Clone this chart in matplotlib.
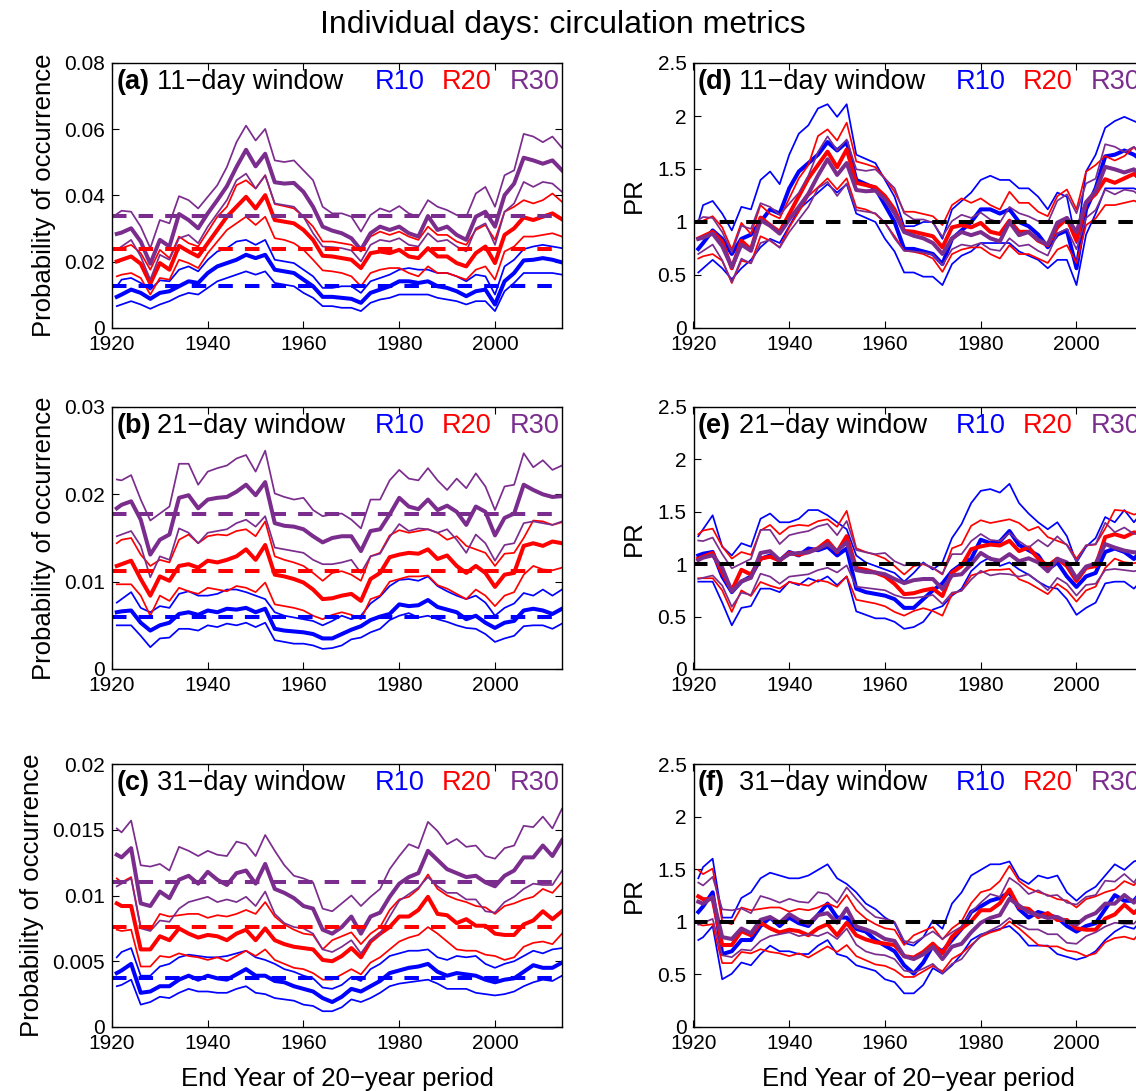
import numpy as np
import matplotlib
matplotlib.use("Agg")
import matplotlib.pyplot as plt

plt.rcParams['font.family'] = ['Liberation Sans', 'DejaVu Sans']
plt.rcParams['mathtext.default'] = 'regular'

# ---------------- data ----------------
years = np.array([1921] + list(range(1922, 2015, 2)))

# (a) 11-day window: probability of occurrence (thin low, thick central, thin high)
a_r10_lo = np.array([0.0066, 0.0071, 0.0081, 0.0071, 0.0058, 0.0071, 0.0081, 0.0096, 0.0106, 0.0101, 0.0121, 0.0141, 0.0151, 0.0161, 0.0171, 0.0161, 0.0171, 0.0136, 0.0131, 0.0126, 0.0106, 0.0091, 0.0066, 0.0066, 0.0061, 0.0061, 0.0051, 0.0076, 0.0086, 0.0091, 0.0101, 0.0101, 0.0101, 0.0101, 0.0091, 0.0086, 0.0081, 0.0071, 0.0081, 0.0081, 0.0051, 0.0111, 0.0136, 0.0166, 0.0166, 0.0166, 0.0166, 0.0161])
a_r10_mid = np.array([0.0094, 0.0101, 0.0116, 0.0106, 0.0088, 0.0106, 0.0111, 0.0126, 0.0141, 0.0136, 0.0166, 0.0186, 0.0196, 0.0206, 0.0221, 0.0211, 0.0221, 0.0176, 0.0171, 0.0166, 0.0146, 0.0126, 0.0094, 0.0094, 0.0091, 0.0088, 0.0076, 0.0106, 0.0116, 0.0126, 0.0141, 0.0141, 0.0136, 0.0141, 0.0126, 0.0121, 0.0111, 0.0096, 0.0111, 0.0116, 0.0071, 0.0141, 0.0166, 0.0204, 0.0206, 0.0211, 0.0206, 0.0198])
a_r10_hi = np.array([0.0126, 0.0146, 0.0151, 0.0136, 0.0116, 0.0144, 0.0141, 0.0176, 0.0186, 0.0171, 0.0206, 0.0231, 0.0241, 0.0261, 0.0266, 0.0251, 0.0266, 0.0206, 0.0201, 0.0196, 0.0176, 0.0156, 0.0121, 0.0121, 0.0126, 0.0126, 0.0106, 0.0141, 0.0151, 0.0161, 0.0176, 0.0181, 0.0176, 0.0176, 0.0166, 0.0166, 0.0156, 0.0141, 0.0161, 0.0156, 0.0101, 0.0186, 0.0206, 0.0238, 0.0246, 0.0251, 0.0246, 0.0241])
a_r20_lo = np.array([0.0156, 0.0161, 0.0166, 0.0151, 0.0101, 0.0151, 0.0146, 0.0206, 0.0196, 0.0181, 0.0226, 0.0261, 0.0296, 0.0316, 0.0336, 0.0311, 0.0336, 0.0271, 0.0266, 0.0256, 0.0236, 0.0206, 0.0174, 0.0171, 0.0166, 0.0156, 0.0126, 0.0166, 0.0176, 0.0181, 0.0181, 0.0166, 0.0156, 0.0186, 0.0166, 0.0166, 0.0156, 0.0146, 0.0176, 0.0186, 0.0146, 0.0231, 0.0246, 0.0276, 0.0276, 0.0281, 0.0286, 0.0276])
a_r20_mid = np.array([0.0201, 0.0206, 0.0216, 0.0194, 0.0134, 0.0196, 0.0176, 0.0248, 0.0231, 0.0216, 0.0256, 0.0296, 0.0336, 0.0366, 0.0396, 0.0361, 0.0401, 0.0326, 0.0321, 0.0316, 0.0296, 0.0266, 0.0218, 0.0216, 0.0211, 0.0206, 0.0181, 0.0226, 0.0231, 0.0226, 0.0236, 0.0216, 0.0211, 0.0241, 0.0216, 0.0216, 0.0196, 0.0186, 0.0226, 0.0246, 0.0196, 0.0281, 0.0301, 0.0334, 0.0326, 0.0336, 0.0346, 0.0328])
a_r20_hi = np.array([0.0238, 0.0241, 0.0251, 0.0226, 0.0176, 0.0236, 0.0211, 0.0276, 0.0256, 0.0246, 0.0291, 0.0336, 0.0366, 0.0431, 0.0446, 0.0421, 0.0461, 0.0374, 0.0368, 0.0361, 0.0336, 0.0306, 0.0261, 0.0261, 0.0256, 0.0251, 0.0231, 0.0276, 0.0291, 0.0281, 0.0291, 0.0276, 0.0266, 0.0306, 0.0281, 0.0281, 0.0261, 0.0251, 0.0296, 0.0311, 0.0266, 0.0351, 0.0366, 0.0386, 0.0376, 0.0386, 0.0406, 0.0381])
a_r30_lo = np.array([0.0236, 0.0246, 0.0266, 0.0216, 0.0146, 0.0221, 0.0206, 0.0271, 0.0281, 0.0256, 0.0306, 0.0346, 0.0386, 0.0446, 0.0466, 0.0421, 0.0461, 0.0376, 0.0371, 0.0366, 0.0336, 0.0286, 0.0246, 0.0244, 0.0241, 0.0234, 0.0201, 0.0251, 0.0266, 0.0261, 0.0271, 0.0251, 0.0246, 0.0286, 0.0261, 0.0266, 0.0246, 0.0231, 0.0301, 0.0316, 0.0251, 0.0351, 0.0376, 0.0441, 0.0426, 0.0441, 0.0436, 0.0411])
a_r30_mid = np.array([0.0284, 0.0288, 0.0301, 0.0261, 0.0194, 0.0266, 0.0246, 0.0344, 0.0326, 0.0301, 0.0346, 0.0386, 0.0428, 0.0486, 0.0538, 0.0488, 0.0526, 0.0440, 0.0436, 0.0438, 0.0411, 0.0366, 0.0306, 0.0294, 0.0286, 0.0271, 0.0236, 0.0286, 0.0306, 0.0296, 0.0306, 0.0286, 0.0276, 0.0338, 0.0296, 0.0306, 0.0281, 0.0266, 0.0336, 0.0351, 0.0306, 0.0401, 0.0436, 0.0514, 0.0506, 0.0496, 0.0506, 0.0476])
a_r30_hi = np.array([0.0344, 0.0354, 0.0351, 0.0306, 0.0241, 0.0326, 0.0316, 0.0398, 0.0386, 0.0361, 0.0396, 0.0431, 0.0486, 0.0561, 0.0611, 0.0566, 0.0601, 0.0506, 0.0501, 0.0506, 0.0476, 0.0446, 0.0366, 0.0346, 0.0346, 0.0336, 0.0291, 0.0341, 0.0361, 0.0351, 0.0368, 0.0346, 0.0336, 0.0386, 0.0366, 0.0356, 0.0341, 0.0336, 0.0406, 0.0426, 0.0366, 0.0461, 0.0476, 0.0586, 0.0578, 0.0561, 0.0578, 0.0544])
a_base = [0.0126, 0.0238, 0.0338]   # R10, R20, R30 reference probability

# (b) 21-day window
b_r10_lo = np.array([0.0050, 0.0050, 0.0050, 0.0038, 0.0025, 0.0035, 0.0036, 0.0046, 0.0046, 0.0044, 0.0050, 0.0048, 0.0052, 0.0050, 0.0053, 0.0048, 0.0053, 0.0033, 0.0031, 0.0029, 0.0029, 0.0027, 0.0023, 0.0024, 0.0027, 0.0034, 0.0036, 0.0042, 0.0046, 0.0056, 0.0061, 0.0064, 0.0059, 0.0061, 0.0057, 0.0054, 0.0050, 0.0047, 0.0046, 0.0040, 0.0031, 0.0035, 0.0038, 0.0049, 0.0050, 0.0050, 0.0046, 0.0052])
b_r10_mid = np.array([0.0065, 0.0066, 0.0067, 0.0053, 0.0044, 0.0050, 0.0053, 0.0063, 0.0065, 0.0062, 0.0067, 0.0065, 0.0069, 0.0068, 0.0070, 0.0065, 0.0069, 0.0046, 0.0044, 0.0043, 0.0042, 0.0040, 0.0035, 0.0035, 0.0040, 0.0045, 0.0049, 0.0056, 0.0060, 0.0063, 0.0074, 0.0072, 0.0073, 0.0079, 0.0071, 0.0068, 0.0065, 0.0057, 0.0061, 0.0053, 0.0047, 0.0053, 0.0055, 0.0067, 0.0069, 0.0067, 0.0063, 0.0069])
b_r10_hi = np.array([0.0076, 0.0080, 0.0088, 0.0070, 0.0065, 0.0072, 0.0070, 0.0086, 0.0089, 0.0084, 0.0084, 0.0086, 0.0091, 0.0091, 0.0088, 0.0084, 0.0080, 0.0065, 0.0061, 0.0059, 0.0057, 0.0055, 0.0050, 0.0055, 0.0061, 0.0057, 0.0061, 0.0075, 0.0083, 0.0095, 0.0102, 0.0103, 0.0101, 0.0106, 0.0095, 0.0089, 0.0084, 0.0080, 0.0084, 0.0076, 0.0061, 0.0070, 0.0075, 0.0087, 0.0084, 0.0091, 0.0084, 0.0091])
b_r20_lo = np.array([0.0097, 0.0097, 0.0097, 0.0084, 0.0061, 0.0084, 0.0078, 0.0093, 0.0089, 0.0086, 0.0093, 0.0091, 0.0089, 0.0095, 0.0093, 0.0088, 0.0099, 0.0074, 0.0072, 0.0070, 0.0067, 0.0061, 0.0057, 0.0062, 0.0065, 0.0062, 0.0057, 0.0080, 0.0084, 0.0100, 0.0103, 0.0106, 0.0106, 0.0107, 0.0096, 0.0092, 0.0086, 0.0080, 0.0091, 0.0084, 0.0072, 0.0084, 0.0088, 0.0108, 0.0118, 0.0114, 0.0113, 0.0116])
b_r20_mid = np.array([0.0118, 0.0120, 0.0124, 0.0103, 0.0084, 0.0106, 0.0101, 0.0118, 0.0120, 0.0116, 0.0124, 0.0122, 0.0125, 0.0129, 0.0137, 0.0125, 0.0142, 0.0108, 0.0106, 0.0103, 0.0099, 0.0091, 0.0080, 0.0081, 0.0084, 0.0086, 0.0078, 0.0103, 0.0110, 0.0128, 0.0131, 0.0133, 0.0132, 0.0137, 0.0126, 0.0130, 0.0118, 0.0110, 0.0118, 0.0110, 0.0094, 0.0108, 0.0110, 0.0141, 0.0144, 0.0141, 0.0146, 0.0144])
b_r20_hi = np.array([0.0144, 0.0148, 0.0150, 0.0131, 0.0118, 0.0125, 0.0122, 0.0148, 0.0154, 0.0144, 0.0152, 0.0154, 0.0153, 0.0158, 0.0160, 0.0152, 0.0169, 0.0129, 0.0125, 0.0122, 0.0118, 0.0110, 0.0101, 0.0110, 0.0112, 0.0108, 0.0101, 0.0129, 0.0133, 0.0153, 0.0159, 0.0156, 0.0158, 0.0160, 0.0156, 0.0148, 0.0152, 0.0141, 0.0137, 0.0133, 0.0118, 0.0132, 0.0133, 0.0150, 0.0170, 0.0169, 0.0165, 0.0168])
b_r30_lo = np.array([0.0152, 0.0154, 0.0158, 0.0141, 0.0105, 0.0129, 0.0125, 0.0161, 0.0156, 0.0144, 0.0156, 0.0158, 0.0160, 0.0167, 0.0171, 0.0163, 0.0175, 0.0139, 0.0137, 0.0135, 0.0133, 0.0125, 0.0120, 0.0120, 0.0122, 0.0125, 0.0110, 0.0129, 0.0132, 0.0151, 0.0166, 0.0158, 0.0161, 0.0160, 0.0156, 0.0160, 0.0148, 0.0133, 0.0154, 0.0144, 0.0124, 0.0142, 0.0144, 0.0167, 0.0169, 0.0167, 0.0165, 0.0169])
b_r30_mid = np.array([0.0184, 0.0188, 0.0192, 0.0171, 0.0131, 0.0148, 0.0154, 0.0196, 0.0199, 0.0184, 0.0194, 0.0196, 0.0197, 0.0203, 0.0211, 0.0199, 0.0214, 0.0167, 0.0164, 0.0163, 0.0160, 0.0152, 0.0145, 0.0150, 0.0152, 0.0152, 0.0135, 0.0158, 0.0160, 0.0177, 0.0196, 0.0186, 0.0183, 0.0194, 0.0182, 0.0187, 0.0180, 0.0165, 0.0186, 0.0180, 0.0153, 0.0173, 0.0178, 0.0211, 0.0205, 0.0200, 0.0197, 0.0198])
b_r30_hi = np.array([0.0217, 0.0216, 0.0222, 0.0194, 0.0170, 0.0178, 0.0186, 0.0235, 0.0235, 0.0211, 0.0226, 0.0230, 0.0233, 0.0241, 0.0245, 0.0226, 0.0250, 0.0201, 0.0197, 0.0194, 0.0196, 0.0182, 0.0175, 0.0177, 0.0178, 0.0171, 0.0161, 0.0194, 0.0194, 0.0216, 0.0228, 0.0218, 0.0216, 0.0230, 0.0216, 0.0205, 0.0218, 0.0207, 0.0224, 0.0209, 0.0182, 0.0209, 0.0211, 0.0247, 0.0231, 0.0239, 0.0228, 0.0233])
b_base = [0.0060, 0.0112, 0.0177]

# (c) 31-day window
c_r10_lo = np.array([0.0031, 0.0032, 0.0036, 0.0017, 0.0019, 0.0023, 0.0022, 0.0026, 0.0029, 0.0027, 0.0027, 0.0026, 0.0026, 0.0029, 0.0031, 0.0026, 0.0025, 0.0022, 0.0021, 0.0020, 0.0017, 0.0016, 0.0012, 0.0012, 0.0015, 0.0021, 0.0019, 0.0022, 0.0026, 0.0031, 0.0033, 0.0034, 0.0035, 0.0036, 0.0033, 0.0029, 0.0029, 0.0029, 0.0026, 0.0025, 0.0024, 0.0025, 0.0027, 0.0031, 0.0034, 0.0036, 0.0035, 0.0039])
c_r10_mid = np.array([0.0041, 0.0043, 0.0048, 0.0026, 0.0027, 0.0031, 0.0031, 0.0036, 0.0039, 0.0036, 0.0039, 0.0037, 0.0036, 0.0040, 0.0044, 0.0039, 0.0039, 0.0035, 0.0034, 0.0031, 0.0029, 0.0027, 0.0022, 0.0019, 0.0023, 0.0029, 0.0027, 0.0031, 0.0035, 0.0041, 0.0043, 0.0045, 0.0046, 0.0048, 0.0042, 0.0039, 0.0041, 0.0040, 0.0039, 0.0036, 0.0034, 0.0036, 0.0037, 0.0042, 0.0047, 0.0045, 0.0045, 0.0049])
c_r10_hi = np.array([0.0053, 0.0057, 0.0060, 0.0039, 0.0039, 0.0046, 0.0048, 0.0053, 0.0055, 0.0054, 0.0053, 0.0053, 0.0054, 0.0056, 0.0058, 0.0053, 0.0051, 0.0048, 0.0044, 0.0042, 0.0039, 0.0037, 0.0030, 0.0029, 0.0032, 0.0038, 0.0035, 0.0044, 0.0048, 0.0054, 0.0056, 0.0058, 0.0058, 0.0059, 0.0053, 0.0051, 0.0054, 0.0053, 0.0054, 0.0048, 0.0045, 0.0048, 0.0050, 0.0054, 0.0058, 0.0056, 0.0059, 0.0060])
c_r20_lo = np.array([0.0074, 0.0073, 0.0074, 0.0046, 0.0046, 0.0054, 0.0053, 0.0056, 0.0054, 0.0053, 0.0051, 0.0053, 0.0050, 0.0054, 0.0058, 0.0054, 0.0059, 0.0051, 0.0048, 0.0045, 0.0044, 0.0041, 0.0036, 0.0036, 0.0040, 0.0044, 0.0040, 0.0049, 0.0053, 0.0059, 0.0065, 0.0068, 0.0070, 0.0076, 0.0071, 0.0065, 0.0059, 0.0058, 0.0058, 0.0055, 0.0054, 0.0051, 0.0053, 0.0061, 0.0064, 0.0065, 0.0063, 0.0071])
c_r20_mid = np.array([0.0094, 0.0092, 0.0092, 0.0059, 0.0059, 0.0069, 0.0066, 0.0075, 0.0071, 0.0068, 0.0070, 0.0069, 0.0066, 0.0071, 0.0074, 0.0066, 0.0075, 0.0066, 0.0063, 0.0061, 0.0060, 0.0059, 0.0051, 0.0050, 0.0054, 0.0060, 0.0053, 0.0065, 0.0071, 0.0076, 0.0084, 0.0084, 0.0089, 0.0099, 0.0086, 0.0085, 0.0079, 0.0082, 0.0077, 0.0077, 0.0071, 0.0070, 0.0070, 0.0078, 0.0081, 0.0088, 0.0082, 0.0088])
c_r20_hi = np.array([0.0113, 0.0110, 0.0114, 0.0076, 0.0074, 0.0086, 0.0084, 0.0085, 0.0086, 0.0086, 0.0083, 0.0085, 0.0084, 0.0086, 0.0089, 0.0086, 0.0095, 0.0084, 0.0078, 0.0074, 0.0071, 0.0070, 0.0059, 0.0066, 0.0069, 0.0072, 0.0063, 0.0071, 0.0076, 0.0089, 0.0097, 0.0099, 0.0105, 0.0116, 0.0105, 0.0100, 0.0097, 0.0095, 0.0092, 0.0091, 0.0086, 0.0092, 0.0094, 0.0097, 0.0099, 0.0105, 0.0102, 0.0110])
c_r30_lo = np.array([0.0107, 0.0109, 0.0113, 0.0075, 0.0073, 0.0081, 0.0080, 0.0090, 0.0095, 0.0097, 0.0099, 0.0095, 0.0097, 0.0095, 0.0099, 0.0092, 0.0103, 0.0086, 0.0079, 0.0076, 0.0075, 0.0071, 0.0059, 0.0057, 0.0061, 0.0066, 0.0056, 0.0066, 0.0071, 0.0084, 0.0096, 0.0101, 0.0106, 0.0114, 0.0107, 0.0102, 0.0102, 0.0097, 0.0097, 0.0088, 0.0087, 0.0095, 0.0099, 0.0105, 0.0109, 0.0108, 0.0108, 0.0119])
c_r30_mid = np.array([0.0131, 0.0129, 0.0136, 0.0094, 0.0092, 0.0103, 0.0098, 0.0112, 0.0115, 0.0109, 0.0118, 0.0112, 0.0108, 0.0117, 0.0119, 0.0109, 0.0124, 0.0105, 0.0102, 0.0098, 0.0092, 0.0090, 0.0074, 0.0071, 0.0076, 0.0084, 0.0071, 0.0084, 0.0087, 0.0099, 0.0109, 0.0114, 0.0117, 0.0134, 0.0127, 0.0120, 0.0117, 0.0114, 0.0115, 0.0110, 0.0107, 0.0115, 0.0119, 0.0129, 0.0129, 0.0138, 0.0130, 0.0142])
c_r30_hi = np.array([0.0151, 0.0148, 0.0157, 0.0123, 0.0122, 0.0124, 0.0119, 0.0137, 0.0134, 0.0130, 0.0134, 0.0131, 0.0130, 0.0141, 0.0139, 0.0130, 0.0146, 0.0134, 0.0123, 0.0115, 0.0113, 0.0110, 0.0090, 0.0088, 0.0094, 0.0100, 0.0092, 0.0099, 0.0105, 0.0120, 0.0130, 0.0139, 0.0136, 0.0156, 0.0149, 0.0139, 0.0143, 0.0137, 0.0138, 0.0130, 0.0128, 0.0136, 0.0138, 0.0153, 0.0152, 0.0160, 0.0151, 0.0166])
c_base = [0.00375, 0.00757, 0.0110]

series_labels = ['R10', 'R20', 'R30']
window_labels = ['11\u2212day window', '21\u2212day window', '31\u2212day window']
panel_letters_left = ['(a)', '(b)', '(c)']
panel_letters_right = ['(d)', '(e)', '(f)']
prob_yticks = [[0, 0.02, 0.04, 0.06, 0.08], [0, 0.01, 0.02, 0.03], [0, 0.005, 0.01, 0.015, 0.02]]
prob_yticklabels = [['0', '0.02', '0.04', '0.06', '0.08'], ['0', '0.01', '0.02', '0.03'],
                    ['0', '0.005', '0.01', '0.015', '0.02']]
pr_yticks = [0, 0.5, 1, 1.5, 2, 2.5]
pr_yticklabels = ['0', '0.5', '1', '1.5', '2', '2.5']
xticks = [1920, 1940, 1960, 1980, 2000]
xticklabels = ['1920', '1940', '1960', '1980', '2000']

panels = [
    ([a_r10_lo, a_r10_mid, a_r10_hi], [a_r20_lo, a_r20_mid, a_r20_hi], [a_r30_lo, a_r30_mid, a_r30_hi], a_base),
    ([b_r10_lo, b_r10_mid, b_r10_hi], [b_r20_lo, b_r20_mid, b_r20_hi], [b_r30_lo, b_r30_mid, b_r30_hi], b_base),
    ([c_r10_lo, c_r10_mid, c_r10_hi], [c_r20_lo, c_r20_mid, c_r20_hi], [c_r30_lo, c_r30_mid, c_r30_hi], c_base),
]

# ---------------- style ----------------
colors = ['#0000FF', '#FF0000', '#7B2D8E']
LW_THICK = 2.9
LW_THIN = 1.25
TICK_FS = 15
LABEL_FS = 18.5
TEXT_FS = 19.5

W, H = 1136, 1091
fig = plt.figure(figsize=(W / 100, H / 100), dpi=100)
col_left_px = [112, 693.5]
ax_w_px = 450
rows_px = [(63, 328), (407, 669), (764, 1027)]


def make_ax(col, row):
    t, b = rows_px[row]
    return fig.add_axes([col_left_px[col] / W, 1 - b / H, ax_w_px / W, (b - t) / H])


def style_ax(ax):
    ax.tick_params(direction='in', top=True, right=True, length=5, width=0.8,
                   labelsize=TICK_FS, pad=5)
    for s in ax.spines.values():
        s.set_linewidth(1.0)
    ax.set_xticks(xticks)
    ax.set_xticklabels(xticklabels)
    ax.set_xlim(1920, 2014)


def panel_text(ax, letter, window):
    y = 0.927
    ax.text(0.010, y, letter, transform=ax.transAxes, fontsize=TEXT_FS, fontweight='bold',
            va='center', ha='left')
    ax.text(0.101, y, window, transform=ax.transAxes, fontsize=TEXT_FS, va='center', ha='left')
    for xf, lab, c in zip([0.583, 0.732, 0.883], series_labels, colors):
        ax.text(xf, y, lab, transform=ax.transAxes, fontsize=TEXT_FS, color=c,
                va='center', ha='left')


for row, (r10, r20, r30, base) in enumerate(panels):
    # left: probability
    ax = make_ax(0, row)
    for (lo, mid, hi), c in zip([r10, r20, r30], colors):
        ax.plot(years, lo, color=c, lw=LW_THIN)
        ax.plot(years, hi, color=c, lw=LW_THIN)
        ax.plot(years, mid, color=c, lw=LW_THICK)
    for bval, c in zip(base, colors):
        ax.plot([1920, 2014], [bval, bval], color=c, lw=LW_THICK, dashes=(3.6, 3.0))
    style_ax(ax)
    ax.set_yticks(prob_yticks[row])
    ax.set_yticklabels(prob_yticklabels[row])
    ax.set_ylim(prob_yticks[row][0], prob_yticks[row][-1])
    ax.set_ylabel('Probability of occurrence', fontsize=LABEL_FS, labelpad=6)
    panel_text(ax, panel_letters_left[row], window_labels[row])
    if row == 2:
        ax.set_xlabel('End Year of 20\u2212year period', fontsize=LABEL_FS, labelpad=10)

    # right: probability ratio
    ax = make_ax(1, row)
    for (lo, mid, hi), c, bval in zip([r10, r20, r30], colors, base):
        ax.plot(years, lo / bval, color=c, lw=LW_THIN)
        ax.plot(years, hi / bval, color=c, lw=LW_THIN)
        ax.plot(years, mid / bval, color=c, lw=LW_THICK)
    ax.plot([1920, 2014], [1, 1], color='black', lw=LW_THICK, dashes=(3.6, 3.0))
    style_ax(ax)
    ax.set_yticks(pr_yticks)
    ax.set_yticklabels(pr_yticklabels)
    ax.set_ylim(0, 2.5)
    ax.set_ylabel('PR', fontsize=LABEL_FS, labelpad=8)
    panel_text(ax, panel_letters_right[row], window_labels[row])
    if row == 2:
        ax.set_xlabel('End Year of 20\u2212year period', fontsize=LABEL_FS, labelpad=10)

fig.text(563 / W, 1 - 25 / H, 'Individual days: circulation metrics',
         ha='center', va='center', fontsize=23)

fig.savefig('out.png', dpi=100)
